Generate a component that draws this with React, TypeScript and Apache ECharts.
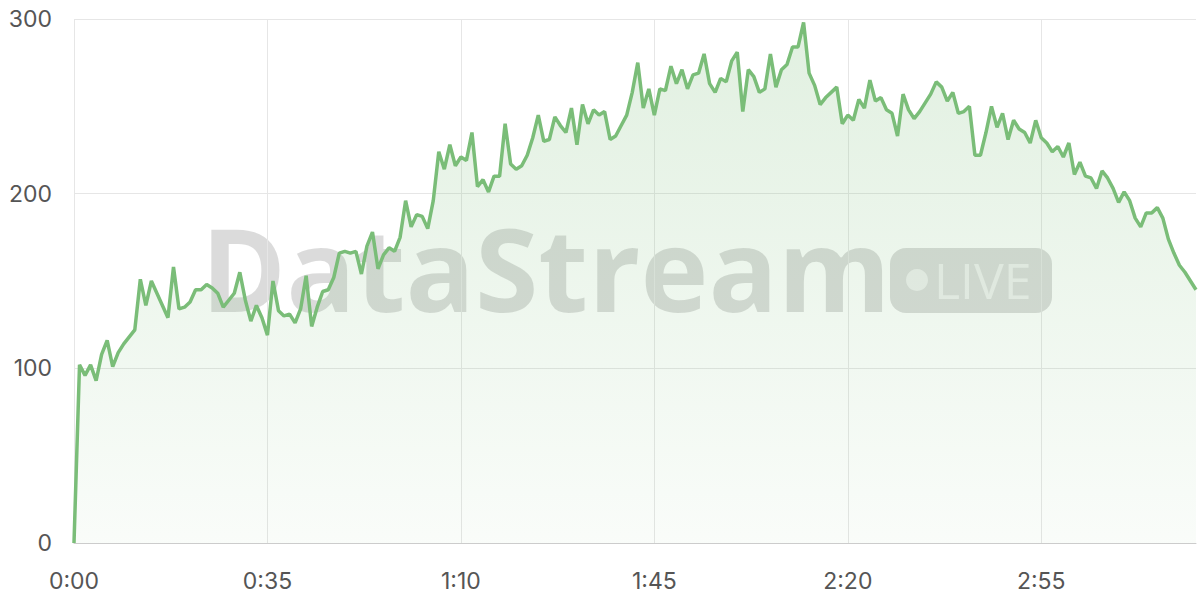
import React, { useEffect, useRef } from "react";
import * as echarts from "echarts";

const seconds: number[] = Array.from({ length: 204 }, (_, i) => i);
const timeLabels: string[] = seconds.map(
  (s) => `${Math.floor(s / 60)}:${String(s % 60).padStart(2, "0")}`
);

const viewers: number[] = [
  0, 102, 96, 102, 93, 108, 116, 101, 109, 114, 118, 122, 151, 136, 150, 143, 136, 129, 158, 134,
  135, 138, 145, 145, 148, 146, 143, 135, 139, 143, 155, 139, 127, 136, 129, 119, 150, 133, 130, 131,
  126, 134, 153, 124, 135, 144, 145, 152, 166, 167, 166, 167, 154, 170, 178, 157, 165, 169, 167, 175,
  196, 181, 188, 187, 180, 196, 224, 214, 228, 216, 221, 219, 235, 204, 208, 201, 210, 210, 240, 217,
  214, 216, 222, 232, 245, 230, 231, 244, 239, 235, 249, 228, 251, 240, 248, 245, 247, 231, 233, 239,
  245, 258, 275, 249, 260, 245, 260, 259, 273, 263, 271, 260, 268, 269, 280, 263, 258, 266, 264, 276,
  281, 247, 271, 267, 258, 260, 280, 261, 271, 274, 284, 284, 298, 269, 262, 251, 255, 258, 261, 240,
  245, 242, 254, 249, 265, 253, 255, 248, 246, 233, 257, 248, 243, 247, 252, 257, 264, 261, 253, 258,
  246, 247, 250, 222, 222, 235, 250, 238, 246, 231, 242, 237, 235, 229, 242, 232, 229, 224, 227, 221,
  229, 211, 218, 210, 209, 203, 213, 209, 203, 195, 201, 196, 186, 181, 189, 189, 192, 186, 174, 166,
  159, 155, 150, 145,
];

const yTicks: number[] = [0, 100, 200, 300];

export default function App() {
  const ref = useRef<HTMLDivElement>(null);
  useEffect(() => {
    if (!ref.current) return;
    const chart = echarts.init(ref.current, null, { renderer: "svg" });
    const lineColor = "#7abd78";
    chart.setOption({
      animation: false,
      backgroundColor: "#ffffff",
      grid: { left: 74, right: 4, top: 19, bottom: 57, containLabel: false },
      graphic: [
        {
          type: "group",
          left: 201,
          top: 210,
          z: 1,
          silent: true,
          children: [
            {
              type: "text",
              x: 0,
              y: 0,
              style: {
                text: "DataStream",
                font: "bold 115px 'Open Sans', sans-serif",
                fill: "rgba(0,0,0,0.14)",
                textVerticalAlign: "top",
              },
            },
            {
              type: "rect",
              x: 689,
              y: 38,
              shape: { width: 162, height: 65, r: 16 },
              style: { fill: "rgba(0,0,0,0.14)" },
            },
            {
              type: "circle",
              x: 0,
              y: 0,
              shape: { cx: 716, cy: 70, r: 11 },
              style: { fill: "rgba(255,255,255,0.55)" },
            },
            {
              type: "text",
              x: 733,
              y: 70,
              style: {
                text: "LIVE",
                font: "500 50px 'Open Sans', sans-serif",
                fill: "rgba(255,255,255,0.55)",
                textVerticalAlign: "middle",
              },
            },
          ],
        },
      ],
      xAxis: {
        type: "category",
        data: timeLabels,
        boundaryGap: false,
        axisLine: { show: true, lineStyle: { color: "#cccccc", width: 1 } },
        axisTick: { show: false, interval: 34 },
        axisLabel: {
          interval: 34,
          color: "#555555",
          fontSize: 23,
          margin: 26,
          fontFamily: "Inter, sans-serif",
        },
        splitLine: { show: true, interval: 34, lineStyle: { color: "#e6e6e6", width: 1 } },
      },
      yAxis: {
        type: "value",
        min: yTicks[0],
        max: yTicks[yTicks.length - 1],
        interval: 100,
        axisLine: { show: false },
        axisTick: { show: false },
        axisLabel: {
          color: "#555555",
          fontSize: 23,
          margin: 22,
          fontFamily: "Inter, sans-serif",
        },
        splitLine: { show: true, lineStyle: { color: "#e6e6e6", width: 1 } },
      },
      series: [
        {
          type: "line",
          data: viewers,
          z: 3,
          showSymbol: false,
          symbol: "none",
          smooth: false,
          lineStyle: { color: lineColor, width: 3.5 },
          itemStyle: { color: lineColor },
          areaStyle: {
            color: new echarts.graphic.LinearGradient(0, 0, 0, 1, [
              { offset: 0, color: "rgba(122,189,120,0.32)" },
              { offset: 1, color: "rgba(122,189,120,0.06)" },
            ]),
          },
        },
      ],
    });
    return () => chart.dispose();
  }, []);
  return <div ref={ref} style={{ width: 1200, height: 600, position: "absolute", left: 0, top: 0 }} />;
}
